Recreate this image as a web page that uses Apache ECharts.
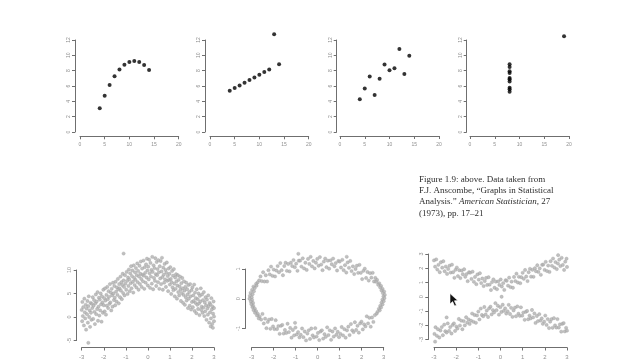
<!DOCTYPE html>
<html><head><meta charset="utf-8">
<script src="https://cdn.jsdelivr.net/npm/echarts@6/dist/echarts.min.js"></script>
<style>html,body{margin:0;padding:0;background:#fff}#c{width:640px;height:360px}</style>
</head><body><div id="c"></div>
<script>
// Anscombe quartet panels (top row)
const quartetX = [4,5,6,7,8,9,10,11,12,13,14];
const curveY   = [3.10,4.74,6.13,7.26,8.14,8.77,9.14,9.26,9.13,8.74,8.10];
const lineY    = [5.39,5.73,6.08,6.42,6.77,7.11,7.46,7.81,8.15,12.74,8.84];
const cloudY   = [4.26,5.68,7.24,4.82,6.95,8.81,8.04,8.33,10.84,7.58,9.96];
const leverX   = [8,8,8,8,8,8,8,8,8,8,19];
const leverY   = [6.58,5.76,7.71,8.84,8.47,7.04,5.25,5.56,7.91,6.89,12.50];
const topXTicks = [0,5,10,15,20];
const topYTicks = [0,2,4,6,8,10,12];

// Bottom-left: arch-shaped cloud
const archPts = [
[-3.0,1.5],[-2.98,-0.9],[-2.97,3.2],[-2.95,0.2],[-2.93,2.1],[-2.9,-1.8],[-2.88,3.9],[-2.86,1.0],[-2.84,-0.3],[-2.82,2.6],
[-2.8,-2.7],[-2.78,1.8],[-2.76,0.6],[-2.74,3.4],[-2.72,-1.2],[-2.7,2.3],[-2.68,4.4],[-2.66,0.0],[-2.64,1.4],[-2.62,-2.1],
[-2.6,3.0],[-2.58,0.9],[-2.56,-0.6],[-2.54,2.8],[-2.52,1.9],[-2.5,4.2],[-2.7,-5.5],
[-2.48,-0.4],[-2.46,2.4],[-2.44,3.6],[-2.42,1.1],[-2.4,-1.5],[-2.38,2.9],[-2.36,4.8],[-2.34,0.6],[-2.32,3.3],[-2.3,1.7],
[-2.28,5.3],[-2.26,-0.8],[-2.24,2.2],[-2.22,4.1],[-2.2,0.3],[-2.18,3.7],[-2.16,1.4],[-2.14,5.0],[-2.12,2.7],[-2.1,-1.0],
[-2.08,4.4],[-2.06,3.1],[-2.04,0.9],[-2.02,5.8],[-2.0,2.5],
[-1.98,4.0],[-1.96,1.2],[-1.94,6.1],[-1.92,3.5],[-1.9,0.5],[-1.88,4.7],[-1.86,2.4],[-1.84,6.4],[-1.82,3.8],[-1.8,1.9],
[-1.78,5.5],[-1.76,4.3],[-1.74,2.8],[-1.72,7.0],[-1.7,3.1],[-1.68,5.2],[-1.66,1.4],[-1.64,6.0],[-1.62,4.6],[-1.6,2.2],
[-1.58,7.3],[-1.56,5.0],[-1.54,3.6],[-1.52,6.6],[-1.5,4.1],
[-1.48,2.5],[-1.46,7.5],[-1.44,5.4],[-1.42,3.3],[-1.4,6.3],[-1.38,4.7],[-1.36,8.1],[-1.34,5.9],[-1.32,2.9],[-1.3,7.0],
[-1.28,6.1],[-1.26,4.2],[-1.24,8.6],[-1.22,5.6],[-1.2,7.4],[-1.18,3.8],[-1.16,6.8],[-1.14,9.2],[-1.12,5.1],[-1.1,7.8],
[-1.08,6.4],[-1.06,4.6],[-1.04,8.9],[-1.02,7.1],[-1.1,13.5],
[-0.98,5.8],[-0.96,9.6],[-0.94,7.7],[-0.92,4.9],[-0.9,8.4],[-0.88,6.6],[-0.86,10.1],[-0.84,8.0],[-0.82,5.5],[-0.8,9.3],
[-0.78,7.2],[-0.76,10.8],[-0.74,6.1],[-0.72,8.7],[-0.7,9.9],[-0.68,7.5],[-0.66,5.2],[-0.64,11.0],[-0.62,8.3],[-0.6,6.8],
[-0.58,9.5],[-0.56,7.9],[-0.54,10.4],[-0.52,6.3],[-0.5,8.9],
[-0.48,11.4],[-0.46,7.4],[-0.44,9.8],[-0.42,5.8],[-0.4,8.6],[-0.38,10.9],[-0.36,7.0],[-0.34,9.2],[-0.32,11.8],[-0.3,8.1],
[-0.28,6.4],[-0.26,10.3],[-0.24,9.0],[-0.22,7.6],[-0.2,12.0],[-0.18,8.8],[-0.16,6.0],[-0.14,10.6],[-0.12,9.4],[-0.1,7.3],
[-0.08,11.2],[-0.06,8.4],[-0.04,12.4],[-0.02,9.9],[0.0,6.7],
[0.02,10.7],[0.04,8.0],[0.06,12.2],[0.08,9.3],[0.1,6.2],[0.12,11.5],[0.14,8.6],[0.16,10.0],[0.18,7.1],[0.2,12.8],
[0.22,9.6],[0.24,5.9],[0.26,11.0],[0.28,8.3],[0.3,10.4],[0.32,7.7],[0.34,12.5],[0.36,9.1],[0.38,6.6],[0.4,11.7],
[0.42,8.9],[0.44,10.2],[0.46,7.4],[0.48,12.1],[0.5,9.5],
[0.52,6.0],[0.54,10.8],[0.56,8.2],[0.58,11.9],[0.6,7.0],[0.62,9.7],[0.64,12.6],[0.66,8.5],[0.68,5.8],[0.7,10.5],
[0.72,9.0],[0.74,7.3],[0.76,11.3],[0.78,8.0],[0.8,10.0],[0.82,6.4],[0.84,9.4],[0.86,11.6],[0.88,7.7],[0.9,8.7],
[0.92,5.5],[0.94,10.3],[0.96,7.9],[0.98,9.2],[1.0,6.9],
[1.02,10.6],[1.04,8.1],[1.06,4.9],[1.08,7.4],[1.1,9.8],[1.12,6.3],[1.14,8.8],[1.16,5.7],[1.18,10.2],[1.2,7.1],
[1.22,4.4],[1.24,8.4],[1.26,6.0],[1.28,9.1],[1.3,7.6],[1.32,3.9],[1.34,6.7],[1.36,8.9],[1.38,5.3],[1.4,7.9],
[1.42,4.6],[1.44,6.5],[1.46,8.6],[1.48,5.8],[1.5,3.4],
[1.52,7.2],[1.54,5.1],[1.56,8.3],[1.58,6.1],[1.6,3.0],[1.62,4.7],[1.64,7.6],[1.66,5.6],[1.68,2.6],[1.7,6.4],
[1.72,4.2],[1.74,7.3],[1.76,3.5],[1.78,5.9],[1.8,4.8],[1.82,1.9],[1.84,6.8],[1.86,3.9],[1.88,5.3],[1.9,2.4],
[1.92,7.0],[1.94,4.4],[1.96,1.6],[1.98,5.7],[2.0,3.2],
[2.02,6.3],[2.04,2.1],[2.06,4.6],[2.08,3.4],[2.1,6.9],[2.12,1.3],[2.14,5.2],[2.16,3.0],[2.18,4.0],[2.2,0.8],
[2.22,5.9],[2.24,2.6],[2.26,3.8],[2.28,1.7],[2.3,5.0],[2.32,2.9],[2.34,0.4],[2.36,4.5],[2.38,3.3],[2.4,6.1],
[2.42,1.5],[2.44,2.2],[2.46,4.8],[2.48,0.9],[2.5,3.6],
[2.52,2.0],[2.54,5.3],[2.56,0.2],[2.58,3.1],[2.6,1.2],[2.62,4.2],[2.64,2.5],[2.66,-0.6],[2.68,3.7],[2.7,1.8],
[2.72,0.5],[2.74,4.6],[2.76,2.3],[2.78,-1.2],[2.8,3.0],[2.82,1.0],[2.84,2.7],[2.86,-0.3],[2.88,4.0],[2.9,1.6],
[2.92,-1.5],[2.94,2.2],[2.96,0.7],[2.98,3.3],[3.0,-0.9],[3.0,1.9],[3.0,0.1],[2.85,-2.0],[2.95,-2.3]
];

// Bottom-middle: ring
const ringTop = [
[-2.60,.75],[-2.54,.59],[-2.48,.89],[-2.42,.58],[-2.36,.79],[-2.30,.58],[-2.24,.96],[-2.18,.82],[-2.12,1.08],[-2.06,.77],
[-2.00,.98],[-1.94,.75],[-1.88,.95],[-1.82,1.10],[-1.76,.89],[-1.70,1.20],[-1.64,.96],[-1.58,.79],[-1.52,1.10],[-1.46,1.21],
[-1.40,.94],[-1.34,1.17],[-1.28,.92],[-1.22,1.21],[-1.16,1.10],[-1.10,1.30],[-1.04,1.06],[-0.98,1.18],[-0.92,.94],[-0.86,1.28],
[-0.80,1.28],[-0.74,1.08],[-0.68,1.36],[-0.62,1.02],[-0.56,1.21],[-0.50,.97],[-0.44,1.34],[-0.38,1.17],[-0.32,1.41],[-0.26,1.09],
[-0.20,1.27],[-0.14,1.02],[-0.08,1.21],[-0.02,1.34],[0.04,1.11],[0.10,1.40],[0.16,1.15],[0.22,.96],[0.28,1.25],[0.34,1.35],
[0.40,1.06],[0.46,1.28],[0.52,1.01],[0.58,1.29],[0.64,1.16],[0.70,1.35],[0.76,1.09],[0.82,1.20],[0.88,.95],[0.94,1.27],
[1.00,1.25],[1.06,1.05],[1.12,1.31],[1.18,.96],[1.24,1.13],[1.30,.88],[1.36,1.22],[1.42,1.04],[1.48,1.27],[1.54,.93],
[1.60,1.09],[1.66,.83],[1.72,1.00],[1.78,1.11],[1.84,.87],[1.90,1.14],[1.96,.87],[2.02,.66],[2.08,.94],[2.14,1.01],
[2.20,.70],[2.26,.90],[2.32,.61],[2.38,.86],[2.44,.71],[2.50,.87],[2.56,.58],[-0.88,1.51],[1.32,1.41]
];
const ringBottom = [
[-2.57,-.70],[-2.51,-.51],[-2.45,-.83],[-2.39,-.67],[-2.33,-.99],[-2.27,-.78],[-2.21,-.70],[-2.15,-1.01],[-2.09,-.68],[-2.03,-.93],
[-1.97,-1.02],[-1.91,-.72],[-1.85,-1.02],[-1.79,-.92],[-1.73,-1.18],[-1.67,-.91],[-1.61,-.88],[-1.55,-1.17],[-1.49,-1.05],[-1.43,-1.15],
[-1.37,-.84],[-1.31,-1.12],[-1.25,-.98],[-1.19,-1.31],[-1.13,-1.05],[-1.07,-1.23],[-1.01,-.97],[-0.95,-1.20],[-0.89,-1.12],[-0.83,-1.30],
[-0.77,-1.21],[-0.71,-1.00],[-0.65,-1.29],[-0.59,-1.10],[-0.53,-1.40],[-0.47,-1.17],[-0.41,-1.06],[-0.35,-1.35],[-0.29,-1.00],[-0.23,-1.23],
[-0.17,-1.30],[-0.11,-.99],[-0.05,-1.27],[0.01,-1.15],[0.07,-1.39],[0.13,-1.10],[0.19,-1.06],[0.25,-1.34],[0.31,-1.19],[0.37,-1.28],
[0.43,-.96],[0.49,-1.22],[0.55,-1.06],[0.61,-1.38],[0.67,-1.10],[0.73,-1.27],[0.79,-1.00],[0.85,-1.21],[0.91,-1.11],[0.97,-1.29],
[1.03,-1.18],[1.09,-.95],[1.15,-1.23],[1.21,-1.02],[1.27,-1.31],[1.33,-1.06],[1.39,-.94],[1.45,-1.22],[1.51,-.85],[1.57,-1.06],
[1.63,-1.12],[1.69,-.79],[1.75,-1.05],[1.81,-.91],[1.87,-1.14],[1.93,-.83],[1.99,-.77],[2.05,-1.03],[2.11,-.86],[2.17,-.93],
[2.23,-.59],[2.29,-.83],[2.35,-.64],[2.41,-.94],[2.47,-.63],[2.53,-.78],[-1.03,-.81]
];
const ringSides = [
[-2.66,.62],[-2.73,.55],[-2.80,.50],[-2.78,.44],[-2.92,.41],[-2.86,.36],[-2.98,.30],[-2.90,.25],[-3.05,.20],[-2.96,.15],
[-3.08,.10],[-3.00,.05],[-3.10,.00],[-2.98,-.04],[-3.04,-.09],[-2.94,-.14],[-3.02,-.18],[-2.93,-.24],[-2.97,-.28],[-2.86,-.33],
[-2.92,-.38],[-2.80,-.42],[-2.85,-.47],[-2.72,-.51],[-2.76,-.56],[-2.64,-.60],[-2.68,-.66],
[2.62,.70],[2.70,.63],[2.66,.57],[2.80,.52],[2.75,.47],[2.88,.43],[2.84,.38],[2.95,.33],[2.90,.28],[3.02,.24],
[2.96,.19],[3.05,.13],[2.99,.08],[3.03,.02],[2.94,-.03],[3.00,-.08],[2.90,-.13],[2.95,-.19],[2.84,-.24],[2.88,-.29],
[2.78,-.34],[2.82,-.39],[2.72,-.44],[2.68,-.50],[2.60,-.55]
];

// Bottom-right: crossing bands
const bandUpper = [
[-3.00,2.55],[-2.95,2.11],[-2.90,2.62],[-2.85,1.91],[-2.80,2.24],[-2.74,1.72],[-2.69,2.42],[-2.63,2.04],[-2.58,2.49],[-2.52,1.79],
[-2.47,2.12],[-2.41,1.60],[-2.36,1.95],[-2.30,2.18],[-2.25,1.70],[-2.19,2.25],[-2.14,1.72],[-2.08,1.33],[-2.03,1.89],[-1.97,2.05],
[-1.92,1.45],[-1.86,1.86],[-1.81,1.31],[-1.75,1.84],[-1.70,1.58],[-1.64,1.93],[-1.59,1.40],[-1.53,1.59],[-1.48,1.09],[-1.42,1.72],
[-1.37,1.69],[-1.31,1.25],[-1.26,1.76],[-1.20,1.05],[-1.15,1.39],[-1.09,.88],[-1.04,1.57],[-0.98,1.20],[-0.93,1.65],[-0.87,.96],
[-0.82,1.28],[-0.76,.75],[-0.71,1.10],[-0.65,1.32],[-0.60,.83],[-0.54,1.37],[-0.49,.85],[-0.43,.47],[-0.38,1.03],[-0.32,1.22],
[-0.27,.63],[-0.21,1.06],[-0.16,.53],[-0.10,1.08],[-0.05,.83],[0.01,1.21],[0.06,.72],[0.12,.95],[0.17,.48],[0.23,1.16],
[0.28,1.12],[0.34,.78],[0.39,1.34],[0.45,.68],[0.50,1.06],[0.56,.63],[0.61,1.39],[0.67,1.10],[0.72,1.62],[0.78,1.00],
[0.83,1.40],[0.89,.95],[0.94,1.37],[1.00,1.68],[1.05,1.26],[1.11,1.88],[1.16,1.42],[1.22,1.10],[1.27,1.72],[1.33,1.96],
[1.38,1.41],[1.44,1.89],[1.49,1.40],[1.55,2.00],[1.60,1.79],[1.66,2.21],[1.71,1.74],[1.77,1.99],[1.82,1.54],[1.88,2.24],
[1.93,2.26],[1.99,1.88],[2.04,2.45],[2.10,1.80],[2.15,2.19],[2.21,1.74],[2.26,2.49],[2.32,2.17],[2.37,2.68],[2.43,2.05],
[2.48,2.43],[2.54,1.94],[2.59,2.33],[2.65,2.60],[2.70,2.15],[2.76,2.73],[2.81,2.23],[2.87,1.88],[2.92,2.46],[2.98,2.67],
[3.00,2.09],[2.60,2.92],[0.05,0.0]
];
const bandLower = [
[-2.98,-2.61],[-2.93,-2.14],[-2.87,-2.74],[-2.82,-2.28],[-2.76,-2.86],[-2.71,-2.37],[-2.65,-2.13],[-2.60,-2.70],[-2.54,-1.96],[-2.49,-2.42],
[-2.43,-2.51],[-2.38,-1.87],[-2.32,-2.40],[-2.27,-2.13],[-2.21,-2.58],[-2.16,-1.98],[-2.10,-1.87],[-2.05,-2.40],[-1.99,-2.09],[-1.94,-2.23],
[-1.88,-1.56],[-1.83,-2.02],[-1.77,-1.68],[-1.72,-2.28],[-1.66,-1.71],[-1.61,-2.01],[-1.55,-1.44],[-1.50,-1.82],[-1.44,-1.59],[-1.39,-1.91],
[-1.33,-1.68],[-1.28,-1.18],[-1.22,-1.76],[-1.17,-1.28],[-1.11,-1.83],[-1.06,-1.31],[-1.00,-1.04],[-0.95,-1.59],[-0.89,-.83],[-0.84,-1.28],
[-0.78,-1.37],[-0.73,-.72],[-0.67,-1.24],[-0.62,-.97],[-0.56,-1.42],[-0.51,-.81],[-0.45,-.70],[-0.40,-1.24],[-0.34,-.94],[-0.29,-1.10],
[-0.23,-.45],[-0.18,-.94],[-0.12,-.63],[-0.07,-1.26],[-0.01,-.73],[0.04,-1.07],[0.10,-.56],[0.15,-.99],[0.21,-.82],[0.26,-1.18],
[0.32,-1.02],[0.37,-.57],[0.43,-1.21],[0.48,-.78],[0.54,-1.41],[0.59,-.96],[0.65,-.77],[0.70,-1.37],[0.76,-.68],[0.81,-1.19],
[0.87,-1.34],[0.92,-.74],[0.98,-1.33],[1.03,-1.11],[1.09,-1.62],[1.14,-1.06],[1.20,-1.00],[1.25,-1.58],[1.31,-1.32],[1.36,-1.52],
[1.42,-.93],[1.47,-1.45],[1.53,-1.17],[1.58,-1.84],[1.64,-1.35],[1.69,-1.71],[1.75,-1.22],[1.80,-1.67],[1.86,-1.52],[1.91,-1.90],
[1.97,-1.75],[2.02,-1.32],[2.08,-1.98],[2.13,-1.57],[2.19,-2.20],[2.24,-1.75],[2.30,-1.57],[2.35,-2.18],[2.41,-1.50],[2.46,-2.01],
[2.52,-2.16],[2.57,-1.57],[2.63,-2.16],[2.68,-1.94],[2.74,-2.45],[2.79,-1.90],[2.85,-1.85],[2.90,-2.43],[2.96,-2.18],[3.00,-2.38],
[-2.43,-1.45],[-2.95,-3.15]
];
const bottomXTicks = [-3,-2,-1,0,1,2,3];

const axisColor = '#6f6f6f';
const labelColor = '#8f8f8f';

function xAx(gi, min, max, interval, offset, fs, margin){
  return {type:'value', gridIndex:gi, min, max, interval, offset,
    axisLine:{show:true,onZero:false,lineStyle:{color:axisColor,width:1}},
    axisTick:{show:true,length:3,lineStyle:{color:axisColor}},
    axisLabel:{fontSize:fs,color:labelColor,margin:margin,fontFamily:'Liberation Sans'},
    splitLine:{show:false}};
}
function yAx(gi, min, max, interval, offset, fs, margin){
  return {type:'value', gridIndex:gi, min, max, interval, offset,
    axisLine:{show:true,onZero:false,lineStyle:{color:axisColor,width:1}},
    axisTick:{show:true,length:3,lineStyle:{color:axisColor}},
    axisLabel:{fontSize:fs,color:labelColor,margin:margin,rotate:90,fontFamily:'Liberation Sans'},
    splitLine:{show:false}};
}
function zip(xs, ys){ return xs.map((x,i)=>[x, ys[i]]); }

const grids = [
  {left:80, top:40, width:98.7, height:92},
  {left:210, top:40, width:98.7, height:92},
  {left:340, top:40, width:99, height:92},
  {left:470, top:40, width:99, height:92},
  {left:81.7, top:270, width:132.3, height:74},
  {left:251.7, top:269, width:132, height:63},
  {left:434, top:254, width:133, height:89}
];
const tMin = topXTicks[0], tMax = topXTicks[topXTicks.length-1];
const yMin = topYTicks[0], yMax = topYTicks[topYTicks.length-1];
const bMin = bottomXTicks[0], bMax = bottomXTicks[bottomXTicks.length-1];
const xAxes = [
  xAx(0,tMin,tMax,5,4.3,5,6), xAx(1,tMin,tMax,5,4.3,5,6), xAx(2,tMin,tMax,5,4,5,6), xAx(3,tMin,tMax,5,4,5,6),
  xAx(4,bMin,bMax,1,7,6,6.5), xAx(5,bMin,bMax,1,19,6,6.5), xAx(6,bMin,bMax,1,8,6,6.5)
];
const yAxes = [
  yAx(0,yMin,yMax,2,5,5,4), yAx(1,yMin,yMax,2,5,5,4), yAx(2,yMin,yMax,2,3.3,5,4), yAx(3,yMin,yMax,2,3.3,5,4),
  yAx(4,-5,10,5,5,5.5,4), yAx(5,-1,1,1,6.7,5.5,4), yAx(6,-3,3,1,5.7,5.5,4)
];
function topSeries(i, data){
  return {type:'scatter', xAxisIndex:i, yAxisIndex:i, data, symbolSize:4, clip:false, silent:true,
    itemStyle:{color:'#000'}};
}
function grayScatter(i, data){
  return {type:'scatter', xAxisIndex:i, yAxisIndex:i, data, symbolSize:3.3, clip:false, silent:true,
    itemStyle:{color:'#b0b0b0', borderColor:'#9a9a9a', borderWidth:0.4}};
}
const chart = echarts.init(document.getElementById('c'), null, {renderer:'canvas'});
chart.setOption({
  animation:false,
  backgroundColor:'#fff',
  grid: grids,
  xAxis: xAxes,
  yAxis: yAxes,
  series:[
    topSeries(0, zip(quartetX, curveY)),
    topSeries(1, zip(quartetX, lineY)),
    topSeries(2, zip(quartetX, cloudY)),
    topSeries(3, zip(leverX, leverY)),
    grayScatter(4, archPts),
    grayScatter(5, ringTop.concat(ringBottom, ringSides)),
    grayScatter(6, bandUpper.concat(bandLower))
  ],
  graphic:[
    {type:'text', left:419, top:174, silent:true,
      style:{
        text:'Figure 1.9: above. Data taken from\nF.J. Anscombe, \u201cGraphs in Statistical\nAnalysis.\u201d {i|American Statistician}, 27\n(1973), pp. 17\u201321',
        fontFamily:'Liberation Serif', fontSize:9, lineHeight:11.2, fill:'#2e2e2e',
        rich:{ i:{fontStyle:'italic', fontFamily:'Liberation Serif', fontSize:9, lineHeight:11.2, fill:'#2e2e2e'} }
      }},
    {type:'polygon', silent:true, z:100,
      shape:{points:[[450,293.5],[450,304],[452.6,301.6],[454.6,306],[456.4,305.2],[454.4,300.8],[457.8,300.6]]},
      style:{fill:'#111', stroke:'#fff', lineWidth:0.6}}
  ]
});
</script></body></html>
